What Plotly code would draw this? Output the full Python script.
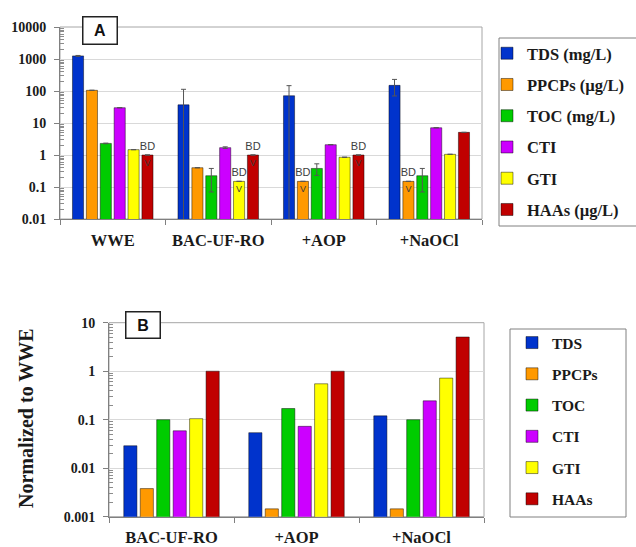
import plotly.graph_objects as go

# ---------------- data ----------------
stages_a = ["WWE", "BAC-UF-RO", "+AOP", "+NaOCl"]
series_a = ["TDS (mg/L)", "PPCPs (µg/L)", "TOC (mg/L)", "CTI", "GTI", "HAAs (µg/L)"]
tds = [1250, 37, 71, 150]
tds_err = [40, 76, 76, 80]
ppcps = [105, 0.40, 0.15, 0.15]
ppcps_err = [0, 0, 0, 0]
toc = [2.3, 0.225, 0.38, 0.225]
toc_err = [0.05, 0.155, 0.15, 0.155]
cti = [30, 1.7, 2.1, 7.1]
cti_err = [0, 0.1, 0, 0]
gti = [1.47, 0.15, 0.85, 1.05]
gti_err = [0, 0, 0, 0]
haas = [1.0, 1.0, 1.0, 5.1]
haas_err = [0, 0, 0, 0]
# below-detection flags
bd_tds = [False, False, False, False]
bd_ppcps = [False, False, True, True]
bd_toc = [False, False, False, False]
bd_cti = [False, False, False, False]
bd_gti = [False, True, False, False]
bd_haas = [True, True, True, False]

stages_b = ["BAC-UF-RO", "+AOP", "+NaOCl"]
series_b = ["TDS", "PPCPs", "TOC", "CTI", "GTI", "HAAs"]
tds_n = [0.029, 0.054, 0.12]
ppcps_n = [0.0038, 0.00145, 0.00145]
toc_n = [0.10, 0.17, 0.10]
cti_n = [0.059, 0.073, 0.245]
gti_n = [0.105, 0.55, 0.72]
haas_n = [1.0, 1.0, 5.07]

ticks_a = [0.01, 0.1, 1, 10, 100, 1000, 10000]
ticklabels_a = ["0.01", "0.1", "1", "10", "100", "1000", "10000"]
ticks_b = [0.001, 0.01, 0.1, 1, 10]
ticklabels_b = ["0.001", "0.01", "0.1", "1", "10"]

colors = ["#0033CC", "#FF9900", "#00CC00", "#CC00FF", "#FFFF00", "#C00000"]

# ---------------- figure ----------------
W, H = 636, 547
SERIF = "Liberation Serif"
fig = go.Figure()

vals_a = [tds, ppcps, toc, cti, gti, haas]
errs_a = [tds_err, ppcps_err, toc_err, cti_err, gti_err, haas_err]
bds_a = [bd_tds, bd_ppcps, bd_toc, bd_cti, bd_gti, bd_haas]

for i, (name, v, e, bd) in enumerate(zip(series_a, vals_a, errs_a, bds_a)):
    fig.add_trace(go.Bar(
        x=stages_a, y=v, name=name, xaxis="x", yaxis="y",
        marker=dict(color=colors[i], line=dict(color="rgba(0,0,0,0.45)", width=1)),
        error_y=dict(type="data", array=e, color="#555555", thickness=1, width=2.5),
        text=["BD" if b else "" for b in bd], textposition="outside",
        textfont=dict(family="Liberation Sans", size=11, color="#404040"),
        constraintext="none", cliponaxis=False,
        offsetgroup=str(i), legend="legend", legendgroup="a%d" % i,
        hoverinfo="skip"))
    if any(bd):
        fig.add_trace(go.Bar(
            x=stages_a, y=[val if b else None for val, b in zip(v, bd)],
            xaxis="x", yaxis="y", showlegend=False,
            marker=dict(color="rgba(0,0,0,0)", line=dict(width=0)),
            text=["V" if b else "" for b in bd], textposition="inside",
            insidetextanchor="end", textangle=0, constraintext="none",
            textfont=dict(family="Liberation Sans", size=9, color="#3a3a3a"),
            offsetgroup=str(i), legend="legend", hoverinfo="skip"))

vals_b = [tds_n, ppcps_n, toc_n, cti_n, gti_n, haas_n]
for i, (name, v) in enumerate(zip(series_b, vals_b)):
    fig.add_trace(go.Bar(
        x=stages_b, y=v, name=name, xaxis="x2", yaxis="y2",
        marker=dict(color=colors[i], line=dict(color="rgba(0,0,0,0.45)", width=1)),
        offsetgroup=str(i), legend="legend2", legendgroup="b%d" % i,
        hoverinfo="skip"))

tickfont = dict(family=SERIF, size=14, color="#1a1a1a", weight="bold")
xfont = dict(family=SERIF, size=16.5, color="#1a1a1a", weight="bold")
legfont_a = dict(family=SERIF, size=16.5, color="#1a1a1a", weight="bold")
legfont_b = dict(family=SERIF, size=15.5, color="#1a1a1a", weight="bold")
axis_line = "#808080"
grid = "#d9d9d9"


def minor_positions(majors):
    # log-axis minor tick positions (2..9 within each decade)
    return [m * d for d in majors[:-1] for m in range(2, 10)]


def yax(domain, rng, tv, tt, anchor):
    return dict(domain=domain, type="log", range=rng, anchor=anchor, automargin=False,
                tickmode="array", tickvals=tv, ticktext=tt,
                tickfont=tickfont, showline=True, linecolor=axis_line, linewidth=1,
                ticks="outside", ticklen=5, tickcolor=axis_line,
                ticklabelstandoff=5,
                showgrid=True, gridcolor=grid, gridwidth=1, zeroline=False,
                minor=dict(tickmode="array", tickvals=minor_positions(tv),
                           ticks="inside", ticklen=4, tickwidth=1, tickcolor="#8c8c8c",
                           showgrid=False))


def xax(domain, anchor, standoff):
    return dict(domain=domain, anchor=anchor, type="category", automargin=False,
                tickfont=xfont, showline=True, linecolor=axis_line, linewidth=1,
                ticks="outside", tickson="boundaries", ticklen=5, tickcolor=axis_line,
                ticklabelstandoff=standoff, showgrid=False, zeroline=False)


fig.update_layout(
    width=W, height=H,
    margin=dict(l=0, r=0, t=0, b=0, autoexpand=False),
    paper_bgcolor="white", plot_bgcolor="white",
    barmode="group", bargap=0.21, bargroupgap=0.2,
    xaxis=xax([60 / W, 482 / W], "y", 6),
    yaxis=yax([1 - 219 / H, 1 - 27 / H], [-2, 4], ticks_a, ticklabels_a, "x"),
    xaxis2=xax([109 / W, 484 / W], "y2", 5),
    yaxis2=yax([1 - 516.7 / H, 1 - 322.7 / H], [-3, 1], ticks_b, ticklabels_b, "x2"),
    showlegend=True,
    legend=dict(x=487 / W, y=1 - 36 / H, xanchor="left", yanchor="top",
                bgcolor="rgba(0,0,0,0)", borderwidth=0, tracegroupgap=6.8,
                font=legfont_a),
    legend2=dict(x=512 / W, y=1 - 326 / H, xanchor="left", yanchor="top",
                 bgcolor="rgba(0,0,0,0)", borderwidth=0, tracegroupgap=8.1,
                 font=legfont_b),
    shapes=[
        # plot frames (top/right in gray)
        dict(type="rect", xref="x domain", yref="y domain", x0=0, x1=1, y0=0, y1=1,
             line=dict(color="#a6a6a6", width=1), layer="below"),
        dict(type="rect", xref="x2 domain", yref="y2 domain", x0=0, x1=1, y0=0, y1=1,
             line=dict(color="#a6a6a6", width=1), layer="below"),
        # legend boxes
        dict(type="rect", xref="paper", yref="paper", x0=499 / W, x1=645 / W,
             y0=1 - 226 / H, y1=1 - 38 / H, line=dict(color="#808080", width=1)),
        dict(type="rect", xref="paper", yref="paper", x0=510 / W, x1=626 / W,
             y0=1 - 517 / H, y1=1 - 329 / H, line=dict(color="#808080", width=1)),
    ],
    annotations=[
        dict(text="<b>A</b>", xref="paper", yref="paper", x=100 / W, y=1 - 30.5 / H,
             xanchor="center", yanchor="middle",
             showarrow=False, width=33, height=26, bgcolor="white",
             bordercolor="#222222", borderwidth=1.5, borderpad=0,
             font=dict(family="Liberation Sans", size=16, color="#111111")),
        dict(text="<b>B</b>", xref="paper", yref="paper", x=143 / W, y=1 - 325 / H,
             xanchor="center", yanchor="middle",
             showarrow=False, width=33, height=25, bgcolor="white",
             bordercolor="#222222", borderwidth=1.5, borderpad=0,
             font=dict(family="Liberation Sans", size=16, color="#111111")),
        dict(text="<b>Normalized to WWE</b>", xref="paper", yref="paper",
             x=26 / W, y=1 - 418 / H, xanchor="center", yanchor="middle",
             textangle=-90, showarrow=False,
             font=dict(family=SERIF, size=20, color="#1a1a1a")),
    ],
)

fig.write_html("out.html", config={"displayModeBar": False},
               post_script="document.body.style.margin='0px';")
